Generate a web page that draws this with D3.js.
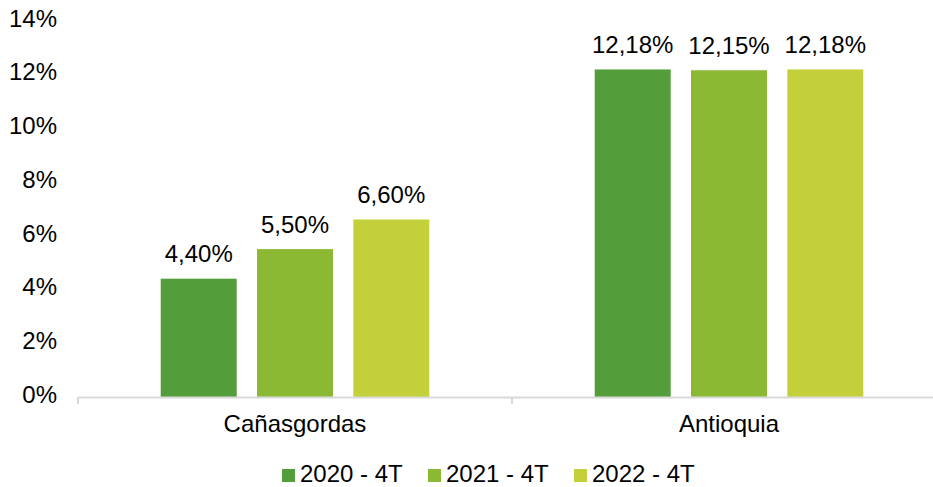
<!DOCTYPE html>
<html>
<head>
<meta charset="utf-8">
<script src="https://cdn.jsdelivr.net/npm/d3@7"></script>
<style>
  body { margin: 0; background: #fff; }
  text { font-family: "Liberation Sans", Arial, sans-serif; fill: #000; }
</style>
</head>
<body>
<div id="chart"></div>
<script>
// data
var categories = ["Cañasgordas", "Antioquia"];
var series = ["2020 - 4T", "2021 - 4T", "2022 - 4T"];
var values = [
  [4.40, 5.50, 6.60],
  [12.18, 12.15, 12.18]
];
var labels = [
  ["4,40%", "5,50%", "6,60%"],
  ["12,18%", "12,15%", "12,18%"]
];
var yTicks = [0, 2, 4, 6, 8, 10, 12, 14];
var colors = ["#539E3A", "#8BB934", "#C4D03A"];

var width = 933, height = 487;
var margin = {left: 78, top: 20.5, bottom: 90};
var fs = "24px";

var svg = d3.select("#chart")
  .append("svg")
    .attr("width", width)
    .attr("height", height);

// scales
var x0 = d3.scaleBand()
  .domain(categories)
  .range([margin.left, margin.left + 868])
  .padding(0);

var x1 = d3.scaleBand()
  .domain(series)
  .range([0, x0.bandwidth()])
  .paddingInner(0.211)
  .paddingOuter(0.859);

var y = d3.scaleLinear()
  .domain([0, 14])
  .range([397, margin.top]);

// y tick labels (no axis line)
svg.append("g")
  .selectAll("text")
  .data(yTicks)
  .enter()
  .append("text")
    .attr("x", 57)
    .attr("y", function(d) { return y(d) + 6; })
    .attr("text-anchor", "end")
    .attr("font-size", fs)
    .text(function(d) { return d + "%"; });

// bars
var groups = svg.append("g")
  .selectAll("g")
  .data(categories)
  .enter()
  .append("g")
    .attr("transform", function(d) { return "translate(" + x0(d) + ",0)"; });

groups.selectAll("rect")
  .data(function(d, i) { return series.map(function(s, j) { return {s: s, v: values[i][j], l: labels[i][j], j: j}; }); })
  .enter()
  .append("rect")
    .attr("x", function(d) { return x1(d.s); })
    .attr("y", function(d) { return y(d.v); })
    .attr("width", x1.bandwidth())
    .attr("height", function(d) { return y(0) - y(d.v); })
    .attr("fill", function(d) { return colors[d.j]; });

groups.selectAll(".lbl")
  .data(function(d, i) { return series.map(function(s, j) { return {s: s, v: values[i][j], l: labels[i][j]}; }); })
  .enter()
  .append("text")
    .attr("class", "lbl")
    .attr("x", function(d) { return x1(d.s) + x1.bandwidth() / 2; })
    .attr("y", function(d) { return y(d.v) - 16.5; })
    .attr("text-anchor", "middle")
    .attr("font-size", fs)
    .text(function(d) { return d.l; });

// x axis
var xAxis = svg.append("g")
  .attr("transform", "translate(0," + y(0) + ")")
  .call(d3.axisBottom(x0).tickSize(0).tickFormat(""));
xAxis.select(".domain").attr("stroke", "#D9D9D9").attr("stroke-width", 2);
xAxis.selectAll(".tick").remove();

// category separators
var seps = [x0.range()[0]].concat(categories.map(function(c) { return x0(c) + x0.bandwidth(); }));
xAxis.selectAll(".sep")
  .data(seps)
  .enter()
  .append("line")
    .attr("class", "sep")
    .attr("x1", function(d) { return d; })
    .attr("x2", function(d) { return d; })
    .attr("y1", 0)
    .attr("y2", 7)
    .attr("stroke", "#D9D9D9")
    .attr("stroke-width", 2);

svg.append("g")
  .selectAll("text")
  .data(categories)
  .enter()
  .append("text")
    .attr("x", function(d) { return x0(d) + x0.bandwidth() / 2; })
    .attr("y", 431.5)
    .attr("text-anchor", "middle")
    .attr("font-size", fs)
    .text(function(d) { return d; });

// legend
var legend = svg.append("g")
  .selectAll("g")
  .data(series)
  .enter()
  .append("g")
    .attr("transform", function(d, i) { return "translate(" + (282 + i * 146) + ",469)"; });

legend.append("rect")
  .attr("width", 13)
  .attr("height", 13)
  .attr("fill", function(d, i) { return colors[i]; });

legend.append("text")
  .attr("x", 18)
  .attr("y", 12.7)
  .attr("font-size", fs)
  .text(function(d) { return d; });
</script>
</body>
</html>
